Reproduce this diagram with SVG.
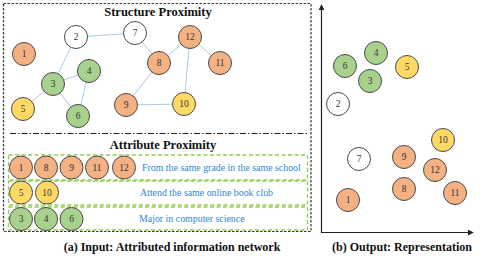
<svg xmlns="http://www.w3.org/2000/svg" width="485" height="273" viewBox="0 0 485 273">
<defs>
<style>
.n circle{stroke:#4a4a4a;stroke-width:1}
.o circle{fill:#f4b183}
.g circle{fill:#a9d18e}
.y circle{fill:#ffd966}
.w circle{fill:#ffffff}
.n text{font-family:"Liberation Serif",serif;font-size:9.5px;fill:#333;text-anchor:middle;dominant-baseline:central}
.e line{stroke:#a8cbea;stroke-width:1}
.title{font-family:"Liberation Serif",serif;font-weight:bold;font-size:12.5px;fill:#111;text-anchor:middle}
.cap{font-family:"Liberation Serif",serif;font-weight:bold;font-size:12px;fill:#111;text-anchor:middle}
.lab{font-family:"Liberation Serif",serif;font-size:9.9px;fill:#2f86d6}
.grp{fill:none;stroke:#92d050;stroke-width:1.3;stroke-dasharray:4 2.5}
</style>
<marker id="ah" viewBox="0 0 8 8" refX="7" refY="4" markerWidth="6" markerHeight="6" orient="auto-start-reverse" markerUnits="userSpaceOnUse">
<path d="M0,0 L8,4 L0,8 z" fill="#222"/>
</marker>
</defs>
<rect x="0" y="0" width="485" height="273" fill="#fff"/>

<!-- frame (a) -->
<rect x="3.5" y="3.5" width="307.5" height="228" fill="none" stroke="#333" stroke-width="1.2" stroke-dasharray="2.5 1.5"/>
<line x1="10" y1="133.5" x2="309" y2="133.5" stroke="#222" stroke-width="1.2" stroke-dasharray="6 2 1.5 2"/>
<text class="title" x="158" y="16">Structure Proximity</text>
<text class="title" x="163" y="149">Attribute Proximity</text>

<g id="connectors" class="e">
<line x1="76" y1="37" x2="135" y2="33"/>
<line x1="76" y1="37" x2="53" y2="84"/>
<line x1="53" y1="84" x2="89" y2="71"/>
<line x1="53" y1="84" x2="23" y2="109"/>
<line x1="53" y1="84" x2="78" y2="116"/>
<line x1="89" y1="71" x2="78" y2="116"/>
<line x1="135" y1="33" x2="159" y2="63"/>
<line x1="159" y1="63" x2="190" y2="37"/>
<line x1="190" y1="37" x2="220" y2="63"/>
<line x1="190" y1="37" x2="184" y2="104"/>
<line x1="159" y1="63" x2="126" y2="105"/>
<line x1="126" y1="105" x2="184" y2="104"/>
</g>

<g id="s1" class="n o"><circle cx="24" cy="54" r="11.5"/><text x="24" y="54">1</text></g>
<g id="s2" class="n w"><circle cx="76" cy="37" r="11.5"/><text x="76" y="37">2</text></g>
<g id="s3" class="n g"><circle cx="53" cy="84" r="11.5"/><text x="53" y="84">3</text></g>
<g id="s4" class="n g"><circle cx="89" cy="71" r="11.5"/><text x="89" y="71">4</text></g>
<g id="s5" class="n y"><circle cx="23" cy="109" r="11.5"/><text x="23" y="109">5</text></g>
<g id="s6" class="n g"><circle cx="78" cy="116" r="11.5"/><text x="78" y="116">6</text></g>
<g id="s7" class="n w"><circle cx="135" cy="33" r="11.5"/><text x="135" y="33">7</text></g>
<g id="s8" class="n o"><circle cx="159" cy="63" r="11.5"/><text x="159" y="63">8</text></g>
<g id="s9" class="n o"><circle cx="126" cy="105" r="11.5"/><text x="126" y="105">9</text></g>
<g id="s10" class="n y"><circle cx="184" cy="104" r="11.5"/><text x="184" y="104">10</text></g>
<g id="s11" class="n o"><circle cx="220" cy="63" r="11.5"/><text x="220" y="63">11</text></g>
<g id="s12" class="n o"><circle cx="190" cy="37" r="11.5"/><text x="190" y="37">12</text></g>

<!-- attribute groups -->
<g id="grp1">
<rect class="grp" x="8.5" y="155" width="299" height="25"/>
<g class="n o"><circle cx="21" cy="167.5" r="11.5"/><text x="21" y="167.5">1</text></g>
<g class="n o"><circle cx="46" cy="167.5" r="11.5"/><text x="46" y="167.5">8</text></g>
<g class="n o"><circle cx="71.5" cy="167.5" r="11.5"/><text x="71.5" y="167.5">9</text></g>
<g class="n o"><circle cx="97" cy="167.5" r="11.5"/><text x="97" y="167.5">11</text></g>
<g class="n o"><circle cx="124" cy="167.5" r="11.5"/><text x="124" y="167.5">12</text></g>
<text class="lab" x="142" y="171">From the same grade in the same school</text>
</g>
<g id="grp2">
<rect class="grp" x="8.5" y="181" width="299" height="24"/>
<g class="n y"><circle cx="21" cy="192.5" r="11.5"/><text x="21" y="192.5">5</text></g>
<g class="n y"><circle cx="47" cy="192.5" r="11.5"/><text x="47" y="192.5">10</text></g>
<text class="lab" x="140" y="195.5">Attend the same online book club</text>
</g>
<g id="grp3">
<rect class="grp" x="8.5" y="207" width="299" height="23"/>
<g class="n g"><circle cx="21" cy="219" r="11.5"/><text x="21" y="219">3</text></g>
<g class="n g"><circle cx="46" cy="219" r="11.5"/><text x="46" y="219">4</text></g>
<g class="n g"><circle cx="71.5" cy="219" r="11.5"/><text x="71.5" y="219">6</text></g>
<text class="lab" x="139" y="222">Major in computer science</text>
</g>

<text class="cap" x="172" y="251">(a) Input: Attributed information network</text>

<!-- (b) axes -->
<g id="axes" fill="none" stroke="#222" stroke-width="1.2">
<polyline points="321.5,5 321.5,232.5 473,232.5" marker-start="url(#ah)" marker-end="url(#ah)"/>
</g>

<g id="r4" class="n g"><circle cx="376" cy="53" r="11.5"/><text x="376" y="53">4</text></g>
<g id="r6" class="n g"><circle cx="345" cy="66" r="11.5"/><text x="345" y="66">6</text></g>
<g id="r3" class="n g"><circle cx="370" cy="81" r="11.5"/><text x="370" y="81">3</text></g>
<g id="r5" class="n y"><circle cx="407" cy="67" r="11.5"/><text x="407" y="67">5</text></g>
<g id="r2" class="n w"><circle cx="338" cy="104" r="11.5"/><text x="338" y="104">2</text></g>
<g id="r10" class="n y"><circle cx="443" cy="140" r="11.5"/><text x="443" y="140">10</text></g>
<g id="r7" class="n w"><circle cx="359" cy="159" r="11.5"/><text x="359" y="159">7</text></g>
<g id="r9" class="n o"><circle cx="404" cy="157" r="11.5"/><text x="404" y="157">9</text></g>
<g id="r12" class="n o"><circle cx="435" cy="170" r="11.5"/><text x="435" y="170">12</text></g>
<g id="r8" class="n o"><circle cx="404" cy="189" r="11.5"/><text x="404" y="189">8</text></g>
<g id="r11" class="n o"><circle cx="455" cy="193" r="11.5"/><text x="455" y="193">11</text></g>
<g id="r1" class="n o"><circle cx="348" cy="200" r="11.5"/><text x="348" y="200">1</text></g>

<text class="cap" x="402" y="251">(b) Output: Representation</text>
</svg>
